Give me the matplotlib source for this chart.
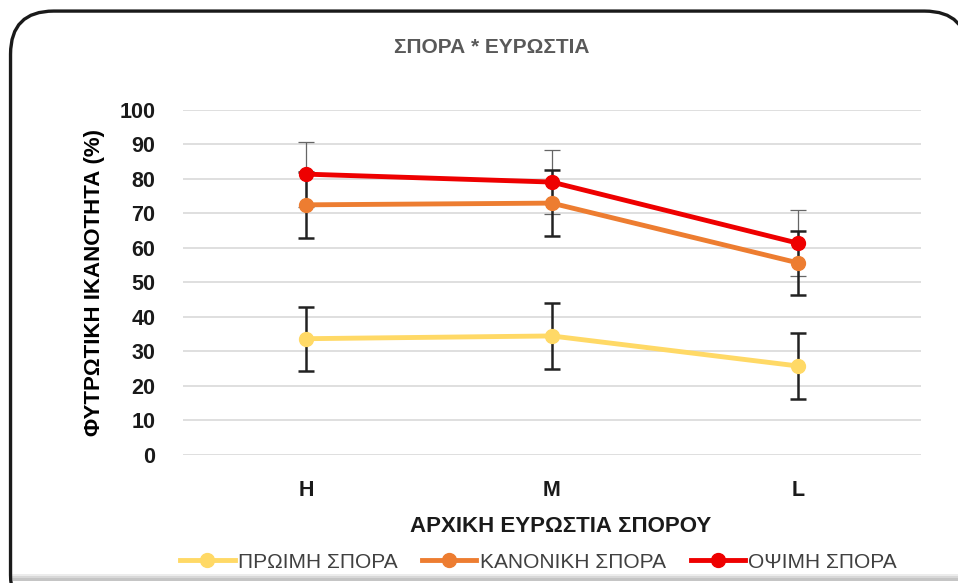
import matplotlib.pyplot as plt
from matplotlib.patches import FancyBboxPatch, Rectangle

plt.rcParams['font.family'] = ['Liberation Sans Narrow', 'Liberation Sans', 'DejaVu Sans']

# Δεδομένα
categories = ['H', 'M', 'L']
proimi = [33.7, 34.5, 25.8]
kanoniki = [72.5, 73.0, 55.7]
opsimi = [81.4, 79.1, 61.4]
err_proimi = [9.3, 9.5, 9.5]
err_kanoniki = [9.5, 9.5, 9.3]
err_opsimi = [9.4, 9.3, 9.6]
series_names = ['ΠΡΩΙΜΗ ΣΠΟΡΑ', 'ΚΑΝΟΝΙΚΗ ΣΠΟΡΑ', 'ΟΨΙΜΗ ΣΠΟΡΑ']

fig = plt.figure(figsize=(9.58, 5.83), dpi=100)

# Πλαίσιο με στρογγυλεμένες γωνίες (κόβεται δεξιά και κάτω)
frame = FancyBboxPatch((0.011, -0.06), 0.999, 1.041,
                       boxstyle="round,pad=0,rounding_size=0.045",
                       transform=fig.transFigure, facecolor='white',
                       edgecolor='#1a1a1a', linewidth=2.4, zorder=-5,
                       mutation_aspect=958 / 583)
fig.patches.append(frame)
# σκιά στο κάτω μέρος
for i, a in enumerate([0.15, 0.3, 0.45]):
    fig.patches.append(Rectangle((0.013, 0.012 - i * 0.004), 0.987, 0.004,
                                 transform=fig.transFigure, facecolor='#808080',
                                 edgecolor='none', alpha=a, zorder=-4))

ax = fig.add_axes([0.191, 0.2196, 0.770, 0.5918])
ax.set_facecolor('none')
x = range(len(categories))

ax.errorbar(x, opsimi, yerr=err_opsimi, fmt='none', ecolor='#666666',
            elinewidth=0.9, capsize=6, capthick=0.9, zorder=2)
ax.errorbar(x, kanoniki, yerr=err_kanoniki, fmt='none', ecolor='#222222',
            elinewidth=1.8, capsize=6, capthick=1.8, zorder=2)
ax.errorbar(x, proimi, yerr=err_proimi, fmt='none', ecolor='#222222',
            elinewidth=1.8, capsize=6, capthick=1.8, zorder=2)

ax.plot(x, proimi, '-o', color='#FFD966', lw=3.5, ms=10, label=series_names[0], zorder=3)
ax.plot(x, kanoniki, '-o', color='#ED7D31', lw=3.5, ms=10, label=series_names[1], zorder=3)
ax.plot(x, opsimi, '-o', color='#EE0000', lw=3.5, ms=10, label=series_names[2], zorder=4)

ax.set_xlim(-0.5, 2.5)
ax.set_ylim(0, 100)
ax.set_yticks(range(0, 101, 10))
ax.set_xticks(list(x))
ax.set_xticklabels(categories)
ax.grid(axis='y', color='#d9d9d9', lw=1.2, zorder=0)
for s in ax.spines.values():
    s.set_visible(False)
ax.tick_params(length=0, labelsize=15.5, pad=20)
ax.tick_params(axis='x', pad=18)
for lbl in ax.get_xticklabels() + ax.get_yticklabels():
    lbl.set_fontweight('bold')
    lbl.set_color('#1a1a1a')

ax.set_ylabel('ΦΥΤΡΩΤΙΚΗ ΙΚΑΝΟΤΗΤΑ (%)', fontsize=16, fontweight='bold', labelpad=10)
fig.text(0.585, 0.097, 'ΑΡΧΙΚΗ ΕΥΡΩΣΤΙΑ ΣΠΟΡΟΥ', ha='center', va='center',
         fontsize=16, fontweight='bold', color='#1a1a1a')
fig.text(0.513, 0.918, 'ΣΠΟΡΑ * ΕΥΡΩΣΤΙΑ', ha='center', va='center',
         fontsize=15, color='#595959', fontweight='bold')

leg = fig.legend(loc='center', bbox_to_anchor=(0.562, 0.036), ncol=3, frameon=False,
                 fontsize=15, handlelength=2.6, columnspacing=1.2, handletextpad=0.15)
for t in leg.get_texts():
    t.set_color('#404040')

fig.savefig('out.png', dpi=100)
